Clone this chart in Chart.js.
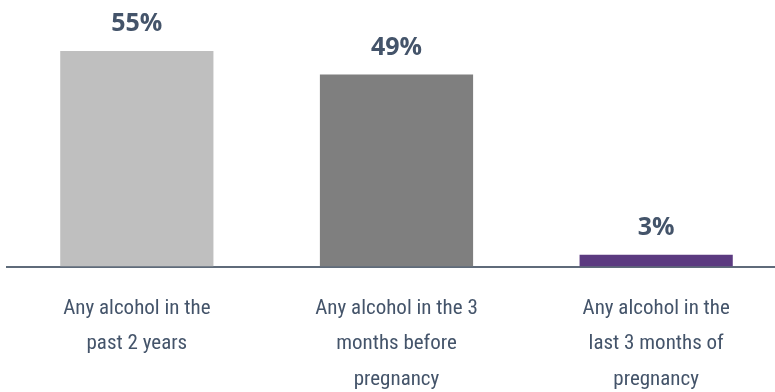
<!DOCTYPE html>
<html lang="en">
<head>
    <meta charset="UTF-8" />
    <style>
        html, body {
            margin: 0;
            padding: 0;
            background: #ffffff;
            overflow: hidden;
        }

        #wrap {
            width: 786px;
            height: 413px;
        }
    </style>
    <title>Alcohol use</title>
    <script src="https://cdn.jsdelivr.net/npm/chart.js"></script>
</head>

<body>
    <div id="wrap">
        <canvas id="chart"></canvas>
    </div>

    <script>
        const categories = [
            ["Any alcohol in the", "past 2 years"],
            ["Any alcohol in the 3", "months before", "pregnancy"],
            ["Any alcohol in the", "last 3 months of", "pregnancy"]
        ];
        const percentages = [55, 49, 3];
        const barColors = ["#BFBFBF", "#7F7F7F", "#5B3A80"];

        const textColor = "#44546A";
        const labelFont = "'Liberation Sans Narrow', 'Roboto Condensed', Lato, sans-serif";
        const valueFont = "'Open Sans', sans-serif";

        // value labels above each bar
        const valueLabels = {
            id: 'valueLabels',
            afterDatasetsDraw(chart) {
                const ctx = chart.ctx;
                const meta = chart.getDatasetMeta(0);
                ctx.save();
                ctx.font = "bold 25px " + valueFont;
                ctx.fillStyle = textColor;
                ctx.textAlign = "center";
                ctx.textBaseline = "middle";
                meta.data.forEach((bar, i) => {
                    ctx.fillText(percentages[i] + "%", bar.x, bar.y - 27);
                });
                ctx.restore();
            }
        };

        new Chart(document.getElementById("chart"), {
            type: 'bar',
            data: {
                labels: categories,
                datasets: [{
                    data: percentages,
                    backgroundColor: barColors,
                    barPercentage: 0.59,
                    categoryPercentage: 1.0
                }]
            },
            options: {
                responsive: true,
                maintainAspectRatio: false,
                animation: false,
                layout: {
                    padding: { left: 7, right: 0, top: 0, bottom: 0 }
                },
                plugins: {
                    legend: { display: false },
                    tooltip: { enabled: false }
                },
                scales: {
                    x: {
                        grid: { display: false },
                        border: { display: true, color: "#5F6B7A", width: 2 },
                        ticks: {
                            color: textColor,
                            padding: 16,
                            maxRotation: 0,
                            autoSkip: false,
                            font: { family: labelFont, size: 21, lineHeight: 1.69 }
                        }
                    },
                    y: {
                        display: false,
                        min: 0,
                        max: 68
                    }
                }
            },
            plugins: [valueLabels]
        });
    </script>
</body>
</html>
